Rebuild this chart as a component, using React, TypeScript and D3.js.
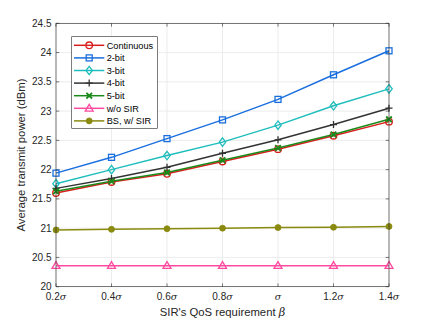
import React from "react";
import * as d3 from "d3";

const xCats = [0.2, 0.4, 0.6, 0.8, 1.0, 1.2, 1.4];
const xTickLabels = ["0.2", "0.4", "0.6", "0.8", "", "1.2", "1.4"];
const yTicks = [20, 20.5, 21, 21.5, 22, 22.5, 23, 23.5, 24, 24.5];

const continuous = [21.6, 21.79, 21.93, 22.14, 22.35, 22.58, 22.82];
const bit2 = [21.94, 22.21, 22.53, 22.85, 23.2, 23.62, 24.03];
const bit3 = [21.76, 22.0, 22.24, 22.47, 22.76, 23.09, 23.38];
const bit4 = [21.68, 21.85, 22.04, 22.28, 22.51, 22.77, 23.05];
const bit5 = [21.63, 21.8, 21.95, 22.16, 22.37, 22.6, 22.86];
const woSIR = [20.36, 20.36, 20.36, 20.36, 20.36, 20.36, 20.36];
const bsSIR = [20.97, 20.98, 20.99, 21.0, 21.01, 21.015, 21.03];

const seriesNames = ["Continuous", "2-bit", "3-bit", "4-bit", "5-bit", "w/o SIR", "BS, w/ SIR"];
const seriesData = [continuous, bit2, bit3, bit4, bit5, woSIR, bsSIR];
const seriesColors = ["#d91e1e", "#1a6fdf", "#1fbdbd", "#333333", "#1a8a1a", "#ff4aa0", "#8a8a10"];
const seriesMarkers = ["circle", "square", "diamond", "plus", "x", "triangle", "dot"];

const W = 429, H = 322;
const L = 56, R = 389, T = 23.3, B = 286.7;
const FONT = "'Liberation Sans', Arial, Helvetica, sans-serif";

function Marker({ type, x, y, color }: { type: string; x: number; y: number; color: string }) {
  const sw = 1.3;
  switch (type) {
    case "circle":
      return <circle cx={x} cy={y} r={3.3} fill="none" stroke={color} strokeWidth={sw} />;
    case "square":
      return <rect x={x - 3} y={y - 3} width={6} height={6} fill="none" stroke={color} strokeWidth={sw} />;
    case "diamond":
      return <path d={`M${x},${y - 4.2}L${x + 3.2},${y}L${x},${y + 4.2}L${x - 3.2},${y}Z`} fill="none" stroke={color} strokeWidth={sw} />;
    case "plus":
      return <path d={`M${x - 3.5},${y}H${x + 3.5}M${x},${y - 3.5}V${y + 3.5}`} stroke={color} strokeWidth={sw} />;
    case "x":
      return <path d={`M${x - 2.8},${y - 2.8}L${x + 2.8},${y + 2.8}M${x - 2.8},${y + 2.8}L${x + 2.8},${y - 2.8}`} stroke={color} strokeWidth={1.8} />;
    case "triangle":
      return <path d={`M${x},${y - 4}L${x + 4},${y + 2.8}L${x - 4},${y + 2.8}Z`} fill="none" stroke={color} strokeWidth={sw} />;
    case "dot":
      return <circle cx={x} cy={y} r={3} fill={color} stroke={color} strokeWidth={0.8} />;
    default:
      return null;
  }
}

export default function App() {
  const x = d3.scaleLinear().domain([0.2, 1.4]).range([L, R]);
  const y = d3.scaleLinear().domain([20, 24.5]).range([B, T]);
  const line = d3.line<number>().x((_, i) => x(xCats[i])).y((d) => y(d));

  const legX = 71.7, legY = 36.7, legW = 85.6, legH = 91.6, rowH = 12.6;

  return (
    <svg width={W} height={H} style={{ position: "absolute", left: 0, top: 0, background: "#fff" }} fontFamily={FONT}>
      <rect x={L} y={T} width={R - L} height={B - T} fill="#fff" />
      {/* grid */}
      {xCats.map((c) => (
        <line key={"gx" + c} x1={x(c)} x2={x(c)} y1={T} y2={B} stroke="#e4e4e4" strokeWidth={0.7} />
      ))}
      {yTicks.map((t) => (
        <line key={"gy" + t} x1={L} x2={R} y1={y(t)} y2={y(t)} stroke="#e4e4e4" strokeWidth={0.7} />
      ))}
      {/* ticks */}
      {xCats.map((c) => (
        <g key={"tx" + c} stroke="#262626" strokeWidth={0.6}>
          <line x1={x(c)} x2={x(c)} y1={B} y2={B - 3.3} />
          <line x1={x(c)} x2={x(c)} y1={T} y2={T + 3.3} />
        </g>
      ))}
      {yTicks.map((t) => (
        <g key={"ty" + t} stroke="#262626" strokeWidth={0.6}>
          <line x1={L} x2={L + 3.3} y1={y(t)} y2={y(t)} />
          <line x1={R} x2={R - 3.3} y1={y(t)} y2={y(t)} />
        </g>
      ))}
      {/* series */}
      {seriesData.map((s, i) => (
        <g key={"s" + i}>
          <path d={line(s) || ""} fill="none" stroke={seriesColors[i]} strokeWidth={1.5} />
          {s.map((v, j) => (
            <Marker key={j} type={seriesMarkers[i]} x={x(xCats[j])} y={y(v)} color={seriesColors[i]} />
          ))}
        </g>
      ))}
      {/* axes box */}
      <rect x={L} y={T} width={R - L} height={B - T} fill="none" stroke="#262626" strokeWidth={0.6} />
      {/* tick labels */}
      {yTicks.map((t) => (
        <text key={"yl" + t} x={L - 4.5} y={y(t)} dy="0.35em" textAnchor="end" fontSize={10} fill="#262626">
          {String(t)}
        </text>
      ))}
      {xCats.map((c, i) => (
        <text key={"xl" + c} x={x(c)} y={299.5} textAnchor="middle" fontSize={10} fill="#262626">
          {xTickLabels[i]}
          <tspan fontStyle="italic" fontFamily="'DejaVu Serif', serif" fontSize={9.5}>σ</tspan>
        </text>
      ))}
      {/* axis labels */}
      <text x={(L + R) / 2} y={315.5} textAnchor="middle" fontSize={11.3} fill="#262626">
        SIR's QoS requirement <tspan fontStyle="italic" fontFamily="'DejaVu Serif', serif">β</tspan>
      </text>
      <text transform={`translate(24.5,${(T + B) / 2}) rotate(-90)`} textAnchor="middle" fontSize={11.3} fill="#262626">
        Average transmit power (dBm)
      </text>
      {/* legend */}
      <rect x={legX} y={legY} width={legW} height={legH} fill="#fff" stroke="#262626" strokeWidth={0.6} />
      {seriesNames.map((n, i) => {
        const ry = 45.3 + i * rowH;
        return (
          <g key={"lg" + i}>
            <line x1={74} x2={104.3} y1={ry} y2={ry} stroke={seriesColors[i]} strokeWidth={1.5} />
            <Marker type={seriesMarkers[i]} x={89.2} y={ry} color={seriesColors[i]} />
            <text x={106.7} y={ry} dy="0.35em" fontSize={9.2} fill="#000">
              {n}
            </text>
          </g>
        );
      })}
    </svg>
  );
}
